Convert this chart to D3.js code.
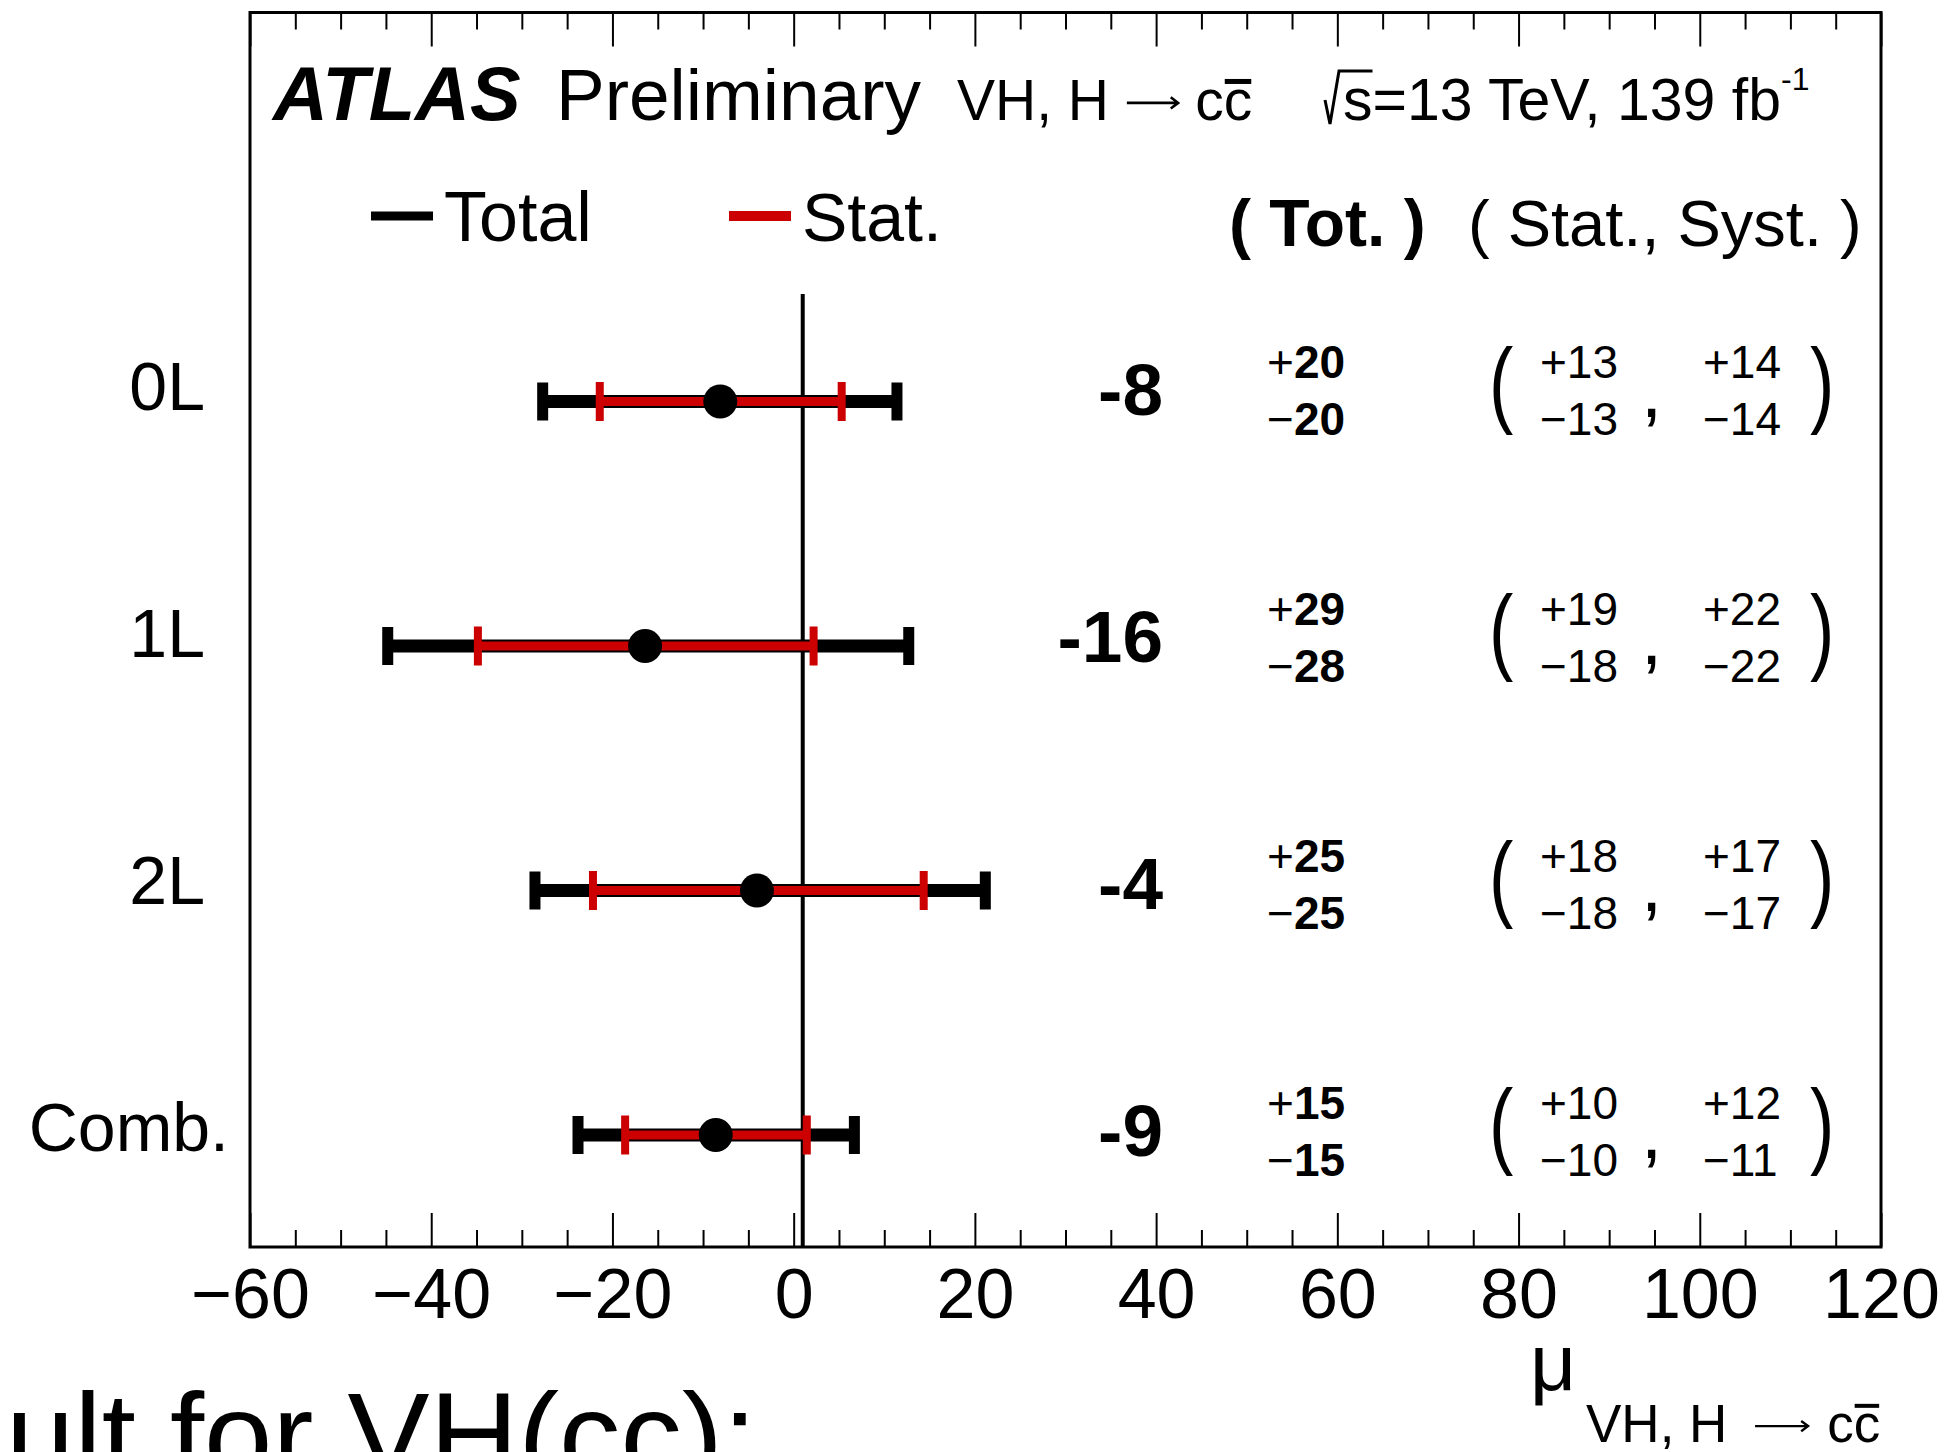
<!DOCTYPE html>
<html><head><meta charset="utf-8">
<script src="https://cdn.jsdelivr.net/npm/d3@7"></script>
<style>
body{margin:0;background:#fff}
text{font-family:"Liberation Sans",Arial,Helvetica,sans-serif;fill:#000}
</style>
</head><body>
<svg id="c" width="1951" height="1452"></svg>
<script>
// ---- data ----
const categories = ["0L", "1L", "2L", "Comb."];
const central    = [-8.1, -16.4, -4.05, -8.6];
const totalUp    = [19.5, 29.1, 25.2, 15.3];
const totalDown  = [19.6, 28.4, 24.5, 15.2];
const statUp     = [13.4, 18.6, 18.4, 10.05];
const statDown   = [13.3, 18.45, 18.1, 10.0];
const systUp     = [14, 22, 17, 12];
const systDown   = [14, 22, 17, 11];
const xMajorTicks = [-60, -40, -20, 0, 20, 40, 60, 80, 100, 120];
const xMinorStep = 5;
const smValue = 1;

// ---- layout ----
const svg = d3.select("#c");
const L = 250, R = 1881, T = 12.5, B = 1247;
const x = d3.scaleLinear().domain([-60, 120]).range([L, R]);
const yRow = d3.scaleLinear().domain([0, categories.length - 1]).range([401.5, 1135]);
const yTxt = d3.scaleLinear().domain([0, categories.length - 1]).range([413, 1154]);
const red = "#cc0000";
const minorTicks = d3.range(-60, 120.001, xMinorStep).filter(v => !xMajorTicks.includes(v));

// axes (ticks inward)
function axisGroup(gen, y) {
  const g = svg.append("g").attr("transform", `translate(0,${y})`).call(gen);
  g.select(".domain").remove();
  g.selectAll(".tick line").attr("stroke", "#000").attr("stroke-width", 2);
  return g;
}
const gBotMaj = axisGroup(d3.axisBottom(x).tickValues(xMajorTicks).tickSize(-34).tickPadding(21), B);
gBotMaj.selectAll("text").attr("font-size", 70).attr("font-family", '"Liberation Sans",Arial,sans-serif').attr("fill", "#000");
axisGroup(d3.axisBottom(x).tickValues(minorTicks).tickSize(-17).tickFormat(""), B);
axisGroup(d3.axisTop(x).tickValues(xMajorTicks).tickSize(-34).tickFormat(""), T);
axisGroup(d3.axisTop(x).tickValues(minorTicks).tickSize(-17).tickFormat(""), T);

// frame
svg.append("rect").attr("x", L).attr("y", T).attr("width", R - L).attr("height", B - T)
  .attr("fill", "none").attr("stroke", "#000").attr("stroke-width", 3);

// SM line
svg.append("line").attr("x1", x(smValue)).attr("x2", x(smValue)).attr("y1", 294).attr("y2", B)
  .attr("stroke", "#000").attr("stroke-width", 4);

// error bars
const rows = categories.map((c, i) => ({
  c, i, mu: central[i], tu: totalUp[i], td: totalDown[i], su: statUp[i], sd: statDown[i],
  yu: systUp[i], yd: systDown[i]
}));
const gb = svg.append("g");
rows.forEach(r => {
  const y = yRow(r.i);
  const tl = x(r.mu - r.td), tr = x(r.mu + r.tu);
  const sl = x(r.mu - r.sd), sr = x(r.mu + r.su);
  gb.append("line").attr("x1", tl).attr("x2", tr).attr("y1", y).attr("y2", y)
    .attr("stroke", "#000").attr("stroke-width", 13);
  [tl, tr].forEach(px => gb.append("rect").attr("x", px - 5.5).attr("y", y - 19).attr("width", 11).attr("height", 38).attr("fill", "#000"));
  gb.append("line").attr("x1", sl).attr("x2", sr).attr("y1", y).attr("y2", y)
    .attr("stroke", red).attr("stroke-width", 9);
  [sl, sr].forEach(px => gb.append("rect").attr("x", px - 4).attr("y", y - 19.5).attr("width", 8).attr("height", 39).attr("fill", red));
  gb.append("circle").attr("cx", x(r.mu)).attr("cy", y).attr("r", 17).attr("fill", "#000");
});

// text columns
const fmt = v => String(Math.round(v));
function pm(x0, y0, sign, val, size) {
  const t = svg.append("text").attr("x", x0).attr("y", y0).attr("font-size", size);
  t.append("tspan").text(sign);
  t.append("tspan").attr("font-weight", "bold").text(val);
}
function paren(ch, x0, y0) {
  svg.append("text").attr("transform", `translate(${x0},${y0}) scale(1,1.3)`)
    .attr("font-size", 73).text(ch);
}
rows.forEach(r => {
  const ty = yTxt(r.i);
  const labelRight = r.c === "Comb." ? 229 : 205;
  svg.append("text").attr("x", labelRight).attr("y", ty - 3).attr("text-anchor", "end").attr("font-size", 68).text(r.c);
  svg.append("text").attr("x", 1163).attr("y", ty + 2).attr("text-anchor", "end").attr("font-size", 73)
    .attr("font-weight", "bold").text("-" + fmt(Math.abs(r.mu)));
  pm(1267, ty - 35, "+", fmt(r.tu), 46);
  pm(1267, ty + 22, "\u2212", fmt(r.td), 46);
  paren("(", 1489, ty + 2);
  paren(")", 1810, ty + 2);
  svg.append("text").attr("x", 1641).attr("y", ty + 4).attr("font-size", 76).text(",");
  svg.append("text").attr("x", 1540).attr("y", ty - 35).attr("font-size", 46).text("+" + fmt(r.su));
  svg.append("text").attr("x", 1540).attr("y", ty + 22).attr("font-size", 46).text("\u2212" + fmt(r.sd));
  svg.append("text").attr("x", 1703).attr("y", ty - 35).attr("font-size", 46).text("+" + fmt(r.yu));
  svg.append("text").attr("x", 1703).attr("y", ty + 22).attr("font-size", 46).text("\u2212" + fmt(r.yd));
});

// header
svg.append("text").attr("x", 273).attr("y", 120).attr("font-size", 76).attr("font-weight", "bold")
  .attr("font-style", "italic").text("ATLAS");
svg.append("text").attr("x", 556).attr("y", 120).attr("font-size", 73).text("Preliminary");

// "VH, H -> c cbar" with a drawn arrow and an overline
function procLabel(x0, y0, fs, arrowStart, arrowLen, ccStart, barH) {
  svg.append("text").attr("x", x0).attr("y", y0).attr("font-size", fs).text("VH, H");
  const ax0 = x0 + arrowStart * fs, ax1 = ax0 + arrowLen * fs, ay = y0 - 0.3 * fs;
  const hw = 0.13 * fs;
  svg.append("path").attr("d", `M${ax0},${ay} H${ax1} M${ax1 - hw},${ay - hw * 0.75} L${ax1},${ay} L${ax1 - hw},${ay + hw * 0.75}`)
    .attr("fill", "none").attr("stroke", "#000").attr("stroke-width", fs * 0.045);
  const tc = svg.append("text").attr("x", x0 + ccStart * fs).attr("y", y0).attr("font-size", fs).text("cc");
  const n = tc.node();
  const a = n.getStartPositionOfChar(1).x, b = n.getEndPositionOfChar(1).x;
  svg.append("rect").attr("x", a + 1).attr("y", y0 - 0.72 * fs).attr("width", b - a - 2).attr("height", barH).attr("fill", "#000");
}
procLabel(957, 120, 57, 2.98, 0.9, 4.18, 5);

const sx = 1343;
const t2 = svg.append("text").attr("x", sx).attr("y", 120).attr("font-size", 59);
t2.append("tspan").text("s=13 TeV, 139 fb");
t2.append("tspan").attr("font-size", 32).attr("dy", -30).text("-1");
const sEnd = t2.node().getEndPositionOfChar(0).x;
svg.append("path").attr("d", `M${sx - 18},100 L${sx - 13},124 L${sx - 4},71 H${sEnd}`)
  .attr("fill", "none").attr("stroke", "#000").attr("stroke-width", 3);

// legend
svg.append("line").attr("x1", 371).attr("x2", 433).attr("y1", 216).attr("y2", 216).attr("stroke", "#000").attr("stroke-width", 9);
svg.append("text").attr("x", 444).attr("y", 241).attr("font-size", 70).text("Total");
svg.append("line").attr("x1", 729).attr("x2", 791).attr("y1", 216).attr("y2", 216).attr("stroke", red).attr("stroke-width", 10);
svg.append("text").attr("x", 802).attr("y", 241).attr("font-size", 68).text("Stat.");
svg.append("text").attr("x", 1229).attr("y", 246).attr("font-size", 66).attr("font-weight", "bold").text("( Tot. )");
svg.append("text").attr("x", 1468).attr("y", 246).attr("font-size", 65).text("( Stat., Syst. )");

// axis title
svg.append("text").attr("x", 1530).attr("y", 1390).attr("font-size", 80).text("\u03bc");
procLabel(1586, 1442, 53, 3.19, 1.0, 4.55, 4);

// clipped slide text at bottom-left
svg.append("text").attr("x", 6).attr("y", 1477).attr("font-size", 120)
  .attr("font-family", "Lato, 'Open Sans', sans-serif")
  .attr("textLength", 751).attr("lengthAdjust", "spacingAndGlyphs").text("ult for VH(cc):");
</script>
</body></html>
